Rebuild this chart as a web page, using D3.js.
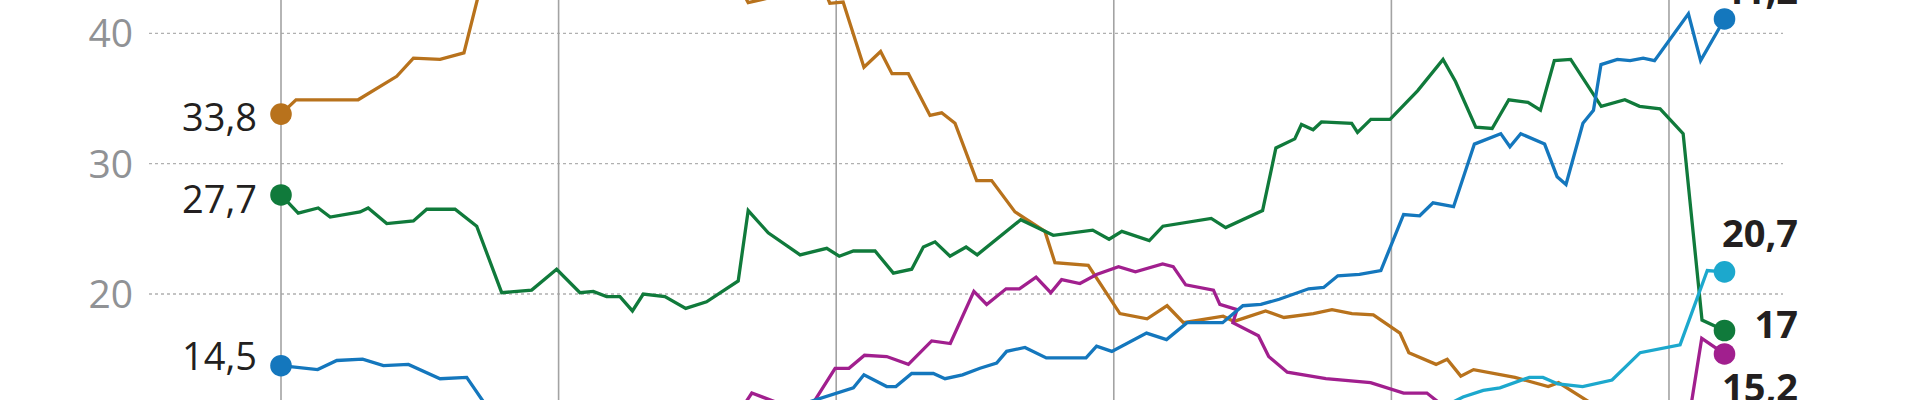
<!DOCTYPE html>
<html>
<head>
<meta charset="utf-8">
<script src="https://cdn.jsdelivr.net/npm/d3@7"></script>
<style>
  html, body { margin: 0; padding: 0; background: #fff; overflow: hidden; }
  svg { display: block; }
</style>
</head>
<body>
<svg id="chart" width="1920" height="400"></svg>
<script>
// ---------- data (time in years from first poll, value in %) ----------
const yTicks = [20, 30, 40];
const periodMarks = [0, 1, 2, 3, 4, 5];

const orangeSeries = [
  [0,33.8],[0.054,34.9],[0.278,34.9],[0.417,36.7],[0.477,38.1],[0.573,38.0],[0.659,38.5],
  [0.724,44.0],[1.005,45.8],[1.293,46.5],[1.509,45.5],[1.617,45.0],[1.683,42.35],[1.834,43.1],
  [1.949,43.8],[1.977,42.3],[2.025,42.4],[2.100,37.4],[2.160,38.6],[2.201,36.9],[2.260,36.9],
  [2.338,33.7],[2.380,33.9],[2.428,33.1],[2.506,28.7],[2.560,28.7],[2.644,26.3],[2.680,25.8],
  [2.752,24.8],[2.788,22.4],[2.908,22.2],[3.022,18.5],[3.120,18.1],[3.192,19.1],[3.251,17.8],
  [3.394,18.3],[3.433,17.9],[3.547,18.7],[3.613,18.2],[3.719,18.5],[3.786,18.8],[3.858,18.5],
  [3.935,18.4],[4.031,17.0],[4.063,15.5],[4.161,14.6],[4.201,15.0],[4.250,13.7],[4.296,14.2],
  [4.445,13.6],[4.565,12.9],[4.602,13.2],[4.751,11.2],[4.968,10.8],[5.2,10.4]
];

const greenSeries = [
  [0,27.6],[0.062,26.2],[0.134,26.6],[0.177,25.9],[0.285,26.3],[0.314,26.6],[0.381,25.4],
  [0.477,25.6],[0.525,26.5],[0.627,26.5],[0.705,25.2],[0.795,20.1],[0.903,20.3],[0.993,21.9],
  [1.077,20.1],[1.125,20.2],[1.173,19.8],[1.221,19.8],[1.266,18.7],[1.305,20.0],[1.383,19.8],
  [1.458,18.9],[1.533,19.4],[1.647,21.0],[1.683,26.4],[1.755,24.7],[1.870,23.0],[1.966,23.5],
  [2.011,22.9],[2.062,23.3],[2.140,23.3],[2.206,21.6],[2.272,21.9],[2.314,23.6],[2.356,24.0],
  [2.410,22.9],[2.468,23.6],[2.508,23.0],[2.665,25.7],[2.782,24.5],[2.924,24.9],[2.983,24.2],
  [3.029,24.8],[3.128,24.1],[3.177,25.2],[3.351,25.8],[3.403,25.1],[3.536,26.4],[3.584,31.2],
  [3.652,31.9],[3.676,33.0],[3.718,32.6],[3.748,33.2],[3.857,33.1],[3.878,32.4],[3.926,33.4],
  [3.995,33.4],[4.095,35.6],[4.186,38.0],[4.231,36.3],[4.304,32.8],[4.363,32.7],[4.423,34.9],
  [4.492,34.7],[4.537,34.1],[4.587,37.9],[4.646,38.0],[4.756,34.4],[4.841,34.9],[4.894,34.4],
  [4.968,34.2],[5.051,32.3],[5.119,18.0],[5.2,17.2]
];

const blueSeries = [
  [0,14.5],[0.132,14.2],[0.201,14.9],[0.294,15.0],[0.369,14.5],[0.459,14.6],[0.573,13.5],
  [0.669,13.6],[0.753,11.0],[1.005,10.5],[1.329,10.2],[1.689,10.8],[1.870,11.5],[2.062,12.8],
  [2.100,13.8],[2.182,12.9],[2.215,12.9],[2.272,13.9],[2.350,13.9],[2.392,13.5],[2.455,13.8],
  [2.518,14.3],[2.578,14.7],[2.614,15.6],[2.680,15.9],[2.757,15.1],[2.900,15.1],[2.938,16.0],
  [2.993,15.6],[3.118,17.0],[3.190,16.5],[3.264,17.8],[3.392,17.8],[3.465,19.1],[3.530,19.2],
  [3.596,19.6],[3.702,20.4],[3.756,20.5],[3.807,21.4],[3.885,21.5],[3.962,21.8],[4.044,26.1],
  [4.102,26.0],[4.150,27.0],[4.224,26.7],[4.299,31.5],[4.394,32.3],[4.427,31.3],[4.466,32.3],
  [4.552,31.5],[4.597,29.0],[4.629,28.4],[4.690,33.1],[4.728,34.1],[4.755,37.6],[4.814,38.0],
  [4.860,37.9],[4.907,38.1],[4.948,37.9],[5.070,41.5],[5.114,37.9],[5.2,41.1]
];

const magentaSeries = [
  [0,8.5],[1.653,11.0],[1.696,12.4],[1.834,11.3],[1.913,11.5],[1.996,14.3],[2.046,14.3],
  [2.102,15.3],[2.182,15.2],[2.260,14.6],[2.344,16.4],[2.411,16.2],[2.496,20.2],[2.542,19.2],
  [2.612,20.4],[2.660,20.4],[2.720,21.3],[2.773,20.1],[2.812,21.1],[2.878,20.8],[2.938,21.5],
  [3.017,22.1],[3.078,21.7],[3.176,22.3],[3.214,22.1],[3.259,20.7],[3.359,20.3],[3.382,19.2],
  [3.444,18.8],[3.429,17.8],[3.521,16.8],[3.558,15.2],[3.625,14.0],[3.764,13.5],[3.925,13.2],
  [4.044,12.4],[4.128,12.4],[4.211,11.0],[4.5,10.5],[5.076,11.0],[5.118,16.6],[5.2,15.4]
];

const cyanSeries = [
  [0,6.0],[4.175,11.2],[4.258,12.1],[4.331,12.6],[4.391,12.8],[4.497,13.6],[4.546,13.6],
  [4.600,13.1],[4.689,12.9],[4.795,13.4],[4.896,15.5],[5.040,16.1],[5.138,21.8],[5.2,21.7]
];

const startLabels = { orange: "33,8", green: "27,7", blue: "14,5" };
const endLabels   = { blue: "41,2", cyan: "20,7", green: "17", magenta: "15,2" };

// ---------- styles & layout ----------
const colors = {
  orange: "#b8721c", green: "#107a3b", blue: "#1477bd",
  magenta: "#a11f8e", cyan: "#1ca8cd"
};
const drawOrder = ["orange", "magenta", "green", "blue", "cyan"];
const seriesByName = {
  orange: orangeSeries, green: greenSeries, blue: blueSeries,
  magenta: magentaSeries, cyan: cyanSeries
};
const startLabelDy = { orange: 16.5, green: 18, blue: 4 };
const endLabelDy = { blue: -15, cyan: -25, green: 8, magenta: 47 };

const W = 1920, H = 400;
const svg = d3.select("#chart");

const x = d3.scaleLinear().domain([0, 5.2]).range([281, 1724.5]);
const y = d3.scaleLinear().domain([20, 40]).range([294, 33.3]);

const gridLeft = 149, gridRight = 1783;
const font = "'Open Sans', 'Noto Sans', sans-serif";

// horizontal dotted grid
svg.append("g").selectAll("line").data(yTicks).join("line")
  .attr("x1", gridLeft).attr("x2", gridRight)
  .attr("y1", d => y(d)).attr("y2", d => y(d))
  .attr("stroke", "#b0b0b0").attr("stroke-width", 1.3)
  .attr("stroke-dasharray", "3,3");

// y tick labels
svg.append("g").selectAll("text").data(yTicks).join("text")
  .attr("x", 133).attr("y", d => y(d) + 14)
  .attr("text-anchor", "end")
  .attr("font-family", font).attr("font-size", 39)
  .attr("fill", "#909295")
  .text(d => d);

// vertical period lines
svg.append("g").selectAll("line").data(periodMarks).join("line")
  .attr("x1", d => x(d)).attr("x2", d => x(d))
  .attr("y1", 0).attr("y2", H)
  .attr("stroke", "#a3a3a3").attr("stroke-width", 1.6);

const line = d3.line().x(d => x(d[0])).y(d => y(d[1]));

const lines = svg.append("g");
drawOrder.forEach(name => {
  lines.append("path")
    .datum(seriesByName[name])
    .attr("d", line)
    .attr("fill", "none")
    .attr("stroke", colors[name])
    .attr("stroke-width", 3.3)
    .attr("stroke-linejoin", "miter")
    .attr("stroke-miterlimit", 3);
});

// dots at start and end
const dots = svg.append("g");
drawOrder.forEach(name => {
  const s = seriesByName[name];
  [s[0], s[s.length - 1]].forEach(p => {
    dots.append("circle")
      .attr("cx", x(p[0])).attr("cy", y(p[1])).attr("r", 10.8)
      .attr("fill", colors[name]);
  });
});

// start labels
const labels = svg.append("g");
Object.keys(startLabels).forEach(name => {
  const p = seriesByName[name][0];
  labels.append("text")
    .attr("x", 257).attr("y", y(p[1]) + startLabelDy[name])
    .attr("text-anchor", "end")
    .attr("font-family", font).attr("font-size", 38)
    .attr("fill", "#231f20")
    .text(startLabels[name]);
});

// end labels (partly cut by the frame, as in the reference)
Object.keys(endLabels).forEach(name => {
  const s = seriesByName[name];
  const p = s[s.length - 1];
  labels.append("text")
    .attr("x", 1798).attr("y", y(p[1]) + endLabelDy[name])
    .attr("text-anchor", "end")
    .attr("font-family", font).attr("font-size", 38).attr("font-weight", 700)
    .attr("fill", "#231f20")
    .text(endLabels[name]);
});
</script>
</body>
</html>
